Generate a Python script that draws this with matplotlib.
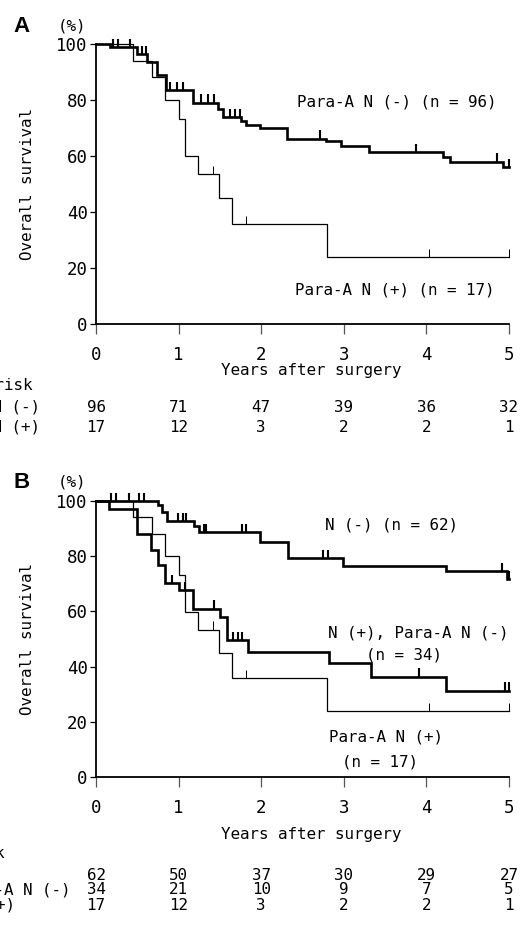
# Kaplan-Meier overall survival, panels A and B, with numbers at risk below
import numpy as np
import matplotlib
matplotlib.use("Agg")
from matplotlib import pyplot as plt
from matplotlib import transforms

# ---- data ----
years = [0, 1, 2, 3, 4, 5]
pct_ticks = [0, 20, 40, 60, 80, 100]

# Panel A: Para-A N (-), n = 96
a_neg_t = [0, 0.17, 0.50, 0.62, 0.74, 0.85, 1.17, 1.48, 1.54, 1.76, 1.82, 1.98,
           2.31, 2.79, 2.97, 3.31, 4.20, 4.28, 4.93, 5.0]
a_neg_s = [100, 98.8, 96.4, 93.5, 89.0, 83.5, 79.0, 76.8, 73.8, 72.4, 70.9, 69.9,
           66.2, 65.3, 63.6, 61.4, 59.6, 57.9, 56.1, 56.1]
a_neg_cens = [0.20, 0.27, 0.41, 0.56, 0.61, 0.90, 0.98, 1.05, 1.27, 1.35, 1.43,
              1.62, 1.68, 1.74, 2.71, 3.87, 4.86, 5.0]

# Para-A N (+), n = 17 (same group in both panels)
pos_t = [0, 0.45, 0.68, 0.84, 1.00, 1.08, 1.24, 1.49, 1.65, 2.80, 5.0]
pos_s = [100, 94.1, 88.2, 80.0, 73.3, 59.9, 53.4, 45.1, 35.7, 23.8, 23.8]
pos_cens = [1.42, 1.82, 4.03, 5.0]

# Panel B: N (-), n = 62
b_neg_t = [0, 0.75, 0.80, 0.86, 1.19, 1.25, 1.99, 2.33, 2.99, 4.24, 4.98, 5.0]
b_neg_s = [100, 98.4, 96.0, 92.8, 90.9, 88.7, 85.3, 79.3, 76.3, 74.7, 71.8, 71.8]
b_neg_cens = [0.18, 0.24, 0.40, 0.52, 0.58, 0.99, 1.05, 1.09, 1.31, 1.33, 1.77,
              1.82, 2.75, 2.81, 4.91, 5.0]

# Panel B: N (+), Para-A N (-), n = 34
b_mid_t = [0, 0.16, 0.50, 0.67, 0.75, 0.84, 1.00, 1.18, 1.50, 1.58, 1.84, 2.82,
           3.33, 4.24, 5.0]
b_mid_s = [100, 97.1, 88.2, 82.1, 76.7, 70.3, 67.6, 61.0, 57.9, 49.5, 45.2, 41.3,
           36.4, 31.3, 31.3]
b_mid_cens = [0.92, 1.08, 1.43, 1.66, 1.72, 1.77, 3.91, 4.95, 5.0]

# numbers at risk
risk_a_neg = [96, 71, 47, 39, 36, 32]
risk_a_pos = [17, 12, 3, 2, 2, 1]
risk_b_neg = [62, 50, 37, 30, 29, 27]
risk_b_mid = [34, 21, 10, 9, 7, 5]
risk_b_pos = [17, 12, 3, 2, 2, 1]

# ---- layout (pixels of a 524x927 picture) ----
W, H = 524, 927
MONO = "DejaVu Sans Mono"
FS = 11.4


def fx(px):
    return px / W


def fy(py):
    return 1 - py / H


def km(ax, t, s, cens, lw):
    ax.step(t, s, where="post", color="black", lw=lw, clip_on=False,
            solid_joinstyle="miter")
    idx = np.searchsorted(t, cens, side="right") - 1
    base = np.array(s)[idx]
    ax.vlines(cens, base, base + 3.0, color="black", lw=lw * 0.8, clip_on=False)


def setup(ax):
    ax.set_xlim(0, 5)
    ax.set_ylim(0, 100)
    for side in ["top", "right"]:
        ax.spines[side].set_visible(False)
    for side in ["left", "bottom"]:
        ax.spines[side].set_linewidth(1.3)
    ax.set_xticks(years)
    ax.set_yticks(pct_ticks)
    ax.tick_params(axis="x", length=7.5, width=0.9, pad=8, color="#555555",
                   labelsize=12.5)
    ax.tick_params(axis="y", length=4.5, width=0.9, pad=1.5, labelsize=12.5)
    for lab in ax.get_xticklabels() + ax.get_yticklabels():
        lab.set_family(MONO)


fig = plt.figure(figsize=(W / 100, H / 100), dpi=100)

# panel A: y 100 at px 44, 0 at px 324
axA = fig.add_axes([fx(96), fy(324), fx(413), (324 - 44) / H])
# panel B: y 100 at px 501, 0 at px 777
axB = fig.add_axes([fx(96), fy(777), fx(413), (777 - 501) / H])

for ax in (axA, axB):
    setup(ax)

km(axA, a_neg_t, a_neg_s, a_neg_cens, 1.9)
km(axA, pos_t, pos_s, pos_cens, 0.9)
km(axB, b_neg_t, b_neg_s, b_neg_cens, 1.9)
km(axB, b_mid_t, b_mid_s, b_mid_cens, 1.9)
km(axB, pos_t, pos_s, pos_cens, 0.9)

# curve labels
axA.text(2.43, 79.4, "Para-A N (-) (n = 96)", family=MONO, fontsize=FS, va="center")
axA.text(2.41, 12.1, "Para-A N (+) (n = 17)", family=MONO, fontsize=FS, va="center")
axB.text(2.77, 91.3, "N (-) (n = 62)", family=MONO, fontsize=FS, va="center")
axB.text(2.81, 52.1, "N (+), Para-A N (-)", family=MONO, fontsize=FS, va="center")
axB.text(3.73, 44.2, "(n = 34)", family=MONO, fontsize=FS, va="center", ha="center")
axB.text(3.51, 14.6, "Para-A N (+)", family=MONO, fontsize=FS, va="center", ha="center")
axB.text(3.44, 5.5, "(n = 17)", family=MONO, fontsize=FS, va="center", ha="center")

# panel letters, (%) and axis titles
for letter, py in [("A", 27), ("B", 483)]:
    fig.text(fx(22), fy(py), letter, family="Liberation Sans", weight="bold",
             fontsize=16, ha="center", va="center")
    fig.text(fx(72), fy(py - 1), "(%)", family=MONO, fontsize=FS,
             ha="center", va="center")

for ax, mid in [(axA, 184), (axB, 639)]:
    fig.text(fx(28), fy(mid), "Overall survival", family=MONO, fontsize=FS,
             rotation=90, ha="center", va="center")

for ax, py in [(axA, 370), (axB, 835)]:
    tr = transforms.blended_transform_factory(ax.transData, fig.transFigure)
    ax.text(2.6, fy(py), "Years after surgery", family=MONO, fontsize=FS,
            ha="center", va="center", transform=tr)

# numbers at risk (row labels run off the left edge as in the original)
trA = transforms.blended_transform_factory(axA.transData, fig.transFigure)
trB = transforms.blended_transform_factory(axB.transData, fig.transFigure)

fig.text(fx(32), fy(385), "No. at risk", family=MONO, fontsize=FS, ha="right", va="center")
fig.text(fx(40), fy(407), "Para-A N (-)", family=MONO, fontsize=FS, ha="right", va="center")
fig.text(fx(40), fy(427), "Para-A N (+)", family=MONO, fontsize=FS, ha="right", va="center")
for row, py in [(risk_a_neg, 407), (risk_a_pos, 427)]:
    for yr, n in zip(years, row):
        axA.text(yr, fy(py), str(n), family=MONO, fontsize=FS, ha="center",
                 va="center", transform=trA)

fig.text(fx(4), fy(854), "No. at risk", family=MONO, fontsize=FS, ha="right", va="center")
fig.text(fx(-40), fy(876), "N (-)", family=MONO, fontsize=FS, ha="right", va="center")
fig.text(fx(70), fy(890), "N (+), Para-A N (-)", family=MONO, fontsize=FS, ha="right", va="center")
fig.text(fx(15), fy(905), "Para-A N (+)", family=MONO, fontsize=FS, ha="right", va="center")
for row, py in [(risk_b_neg, 876), (risk_b_mid, 890), (risk_b_pos, 905)]:
    for yr, n in zip(years, row):
        axB.text(yr, fy(py), str(n), family=MONO, fontsize=FS, ha="center",
                 va="center", transform=trB)

fig.savefig("out.png", dpi=100)
